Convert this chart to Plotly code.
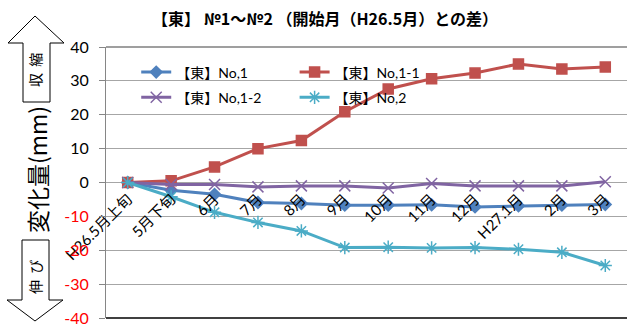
import plotly.graph_objects as go

categories = ["H26.5月上旬", "5月下旬", "6月", "7月", "8月", "9月", "10月", "11月", "12月", "H27.1月", "2月", "3月"]
no1 = [0, -2.3, -3.5, -5.9, -6.2, -6.7, -6.7, -6.6, -7.2, -6.9, -6.7, -6.5]
no1_1 = [0, 0.5, 4.6, 10.0, 12.4, 20.9, 27.6, 30.6, 32.3, 35.0, 33.5, 34.1]
no1_2 = [0, -0.6, -0.6, -1.3, -1.0, -1.0, -1.6, -0.3, -1.0, -1.0, -1.0, 0.2]
no2 = [0, -4.2, -8.8, -11.8, -14.3, -19.2, -19.1, -19.3, -19.2, -19.7, -20.6, -24.5]
y_ticks = [40, 30, 20, 10, 0, -10, -20, -30, -40]

FONT = "Lato, 'Noto Sans CJK JP', sans-serif"
JFONT = "'Noto Sans CJK JP', sans-serif"

series = [
    ("【東】No,1", no1, "#4F81BD", "diamond", 9, "legend"),
    ("【東】No,1-1", no1_1, "#C0504D", "square", 10, "legend2"),
    ("【東】No,1-2", no1_2, "#8064A2", "x-thin-open", 11, "legend"),
    ("【東】No,2", no2, "#4BACC6", "asterisk-open", 11, "legend2"),
]

TOP, BOT = 47, 318
H = BOT - TOP

fig = go.Figure()
for i, (name, vals, color, sym, size, lg) in enumerate(series):
    fig.add_trace(go.Scatter(
        x=categories, y=vals, name=name, mode="lines+markers",
        line=dict(color=color, width=3),
        marker=dict(symbol=sym, size=size, color=color,
                    line=dict(color=color, width=1.5)),
        legend=lg, legendgroup=name,
    ))

ticktext = [str(v) if v >= 0 else f'<span style="color:#FF0000">{v}</span>' for v in y_ticks]

fig.update_layout(
    width=627, height=327,
    margin=dict(l=106, r=0, t=TOP, b=327 - BOT),
    paper_bgcolor="white", plot_bgcolor="white",
    font=dict(family=FONT, size=14, color="black"),
    showlegend=True,
    legend=dict(x=0.058, y=0.965, xanchor="left", yanchor="top",
                bgcolor="rgba(0,0,0,0)", font=dict(size=14, family=FONT),
                tracegroupgap=4, itemwidth=30),
    legend2=dict(x=0.362, y=0.965, xanchor="left", yanchor="top",
                 bgcolor="rgba(0,0,0,0)", font=dict(size=14, family=FONT),
                 tracegroupgap=4, itemwidth=30),
    xaxis=dict(
        type="category", range=[-0.5, 11.5],
        anchor="free", position=0.5,
        showgrid=False, showline=False, zeroline=False,
        ticks="", tickangle=-45, tickfont=dict(size=15, family=FONT),
        ticklabeloverflow="allow", ticklabelstandoff=4,
    ),
    yaxis=dict(
        range=[-40, 40], tickvals=y_ticks, ticktext=ticktext,
        showgrid=True, gridcolor="#A6A6A6", gridwidth=1,
        zeroline=False, showline=True, linecolor="#868686", linewidth=1,
        ticks="outside", ticklen=6, tickcolor="#868686",
        tickfont=dict(size=16, family=FONT), ticklabelstandoff=7,
        automargin=False, ticklabeloverflow="allow",
    ),
)

# plot area border top and bottom
fig.add_shape(type="line", xref="paper", yref="paper", x0=0, x1=1, y0=1, y1=1,
              line=dict(color="#7F7F7F", width=1.5))
fig.add_shape(type="line", xref="paper", yref="paper", x0=0, x1=1, y0=0, y1=0,
              line=dict(color="#404040", width=2))

def px_x(px):
    return (px - 106) / 521

def px_y(py):
    return (BOT - py) / H

# title
fig.add_annotation(text="<b>【東】 №1～№2 （開始月（H26.5月）との差）</b>",
                   xref="paper", yref="paper", x=px_x(325), y=px_y(18),
                   showarrow=False, font=dict(size=16, family=JFONT),
                   xanchor="center", yanchor="middle")

# y axis title
fig.add_annotation(text="変化量(mm)", xref="paper", yref="paper",
                   x=px_x(37), y=px_y(170), textangle=-90, showarrow=False,
                   font=dict(size=23, family=JFONT), xanchor="center", yanchor="middle")

# arrows (decoration)
up = [(35, 16), (64, 43), (50, 43), (50, 102), (23, 102), (23, 43), (8, 43)]
down = [(22, 240), (49, 240), (49, 300), (63, 300), (35, 321), (7, 300), (22, 300)]
for poly in (up, down):
    path = "M " + " L ".join(f"{px_x(x)},{px_y(y)}" for x, y in poly) + " Z"
    fig.add_shape(type="path", xref="paper", yref="paper", path=path,
                  line=dict(color="black", width=1), fillcolor="white")

fig.add_annotation(text="収  縮", xref="paper", yref="paper", x=px_x(35), y=px_y(70),
                   textangle=-90, showarrow=False, font=dict(size=14, family=JFONT),
                   xanchor="center", yanchor="middle")
fig.add_annotation(text="伸  び", xref="paper", yref="paper", x=px_x(35), y=px_y(277),
                   textangle=-90, showarrow=False, font=dict(size=14, family=JFONT),
                   xanchor="center", yanchor="middle")

fig.write_html("out.html")
